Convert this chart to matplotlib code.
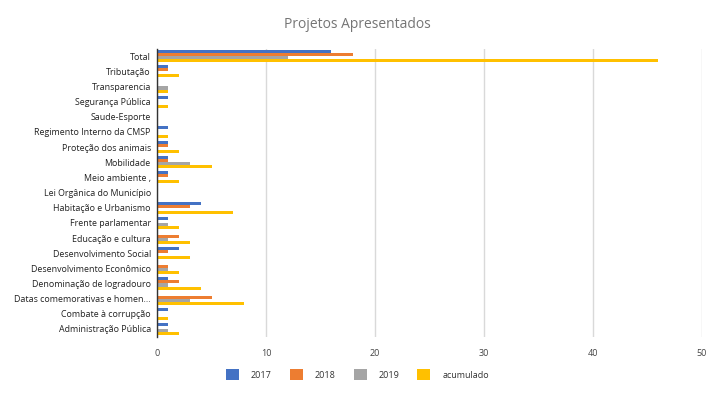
import numpy as np
from matplotlib import pyplot as plt

plt.rcParams['font.family'] = ['Open Sans', 'DejaVu Sans']

categories = [
    "Total", "Tributação", "Transparencia", "Segurança Pública", "Saude-Esporte",
    "Regimento Interno da CMSP", "Proteção dos animais", "Mobilidade",
    "Meio ambiente ,", "Lei Orgânica do Município", "Habitação e Urbanismo",
    "Frente parlamentar", "Educação e cultura", "Desenvolvimento Social",
    "Desenvolvimento Econômico", "Denominação de logradouro",
    "Datas comemorativas e homen...", "Combate à corrupção", "Administração Pública",
]
v2017 = [16, 1, 0, 1, 0, 1, 1, 1, 1, 0, 4, 1, 0, 2, 0, 1, 0, 1, 1]
v2018 = [18, 1, 0, 0, 0, 0, 1, 1, 1, 0, 3, 0, 2, 1, 1, 2, 5, 0, 0]
v2019 = [12, 0, 1, 0, 0, 0, 0, 3, 0, 0, 0, 1, 1, 0, 1, 1, 3, 0, 1]
acumulado = [46, 2, 1, 1, 0, 1, 2, 5, 2, 0, 7, 2, 3, 3, 2, 4, 8, 1, 2]

series = [("2017", v2017, "#4472C4"), ("2018", v2018, "#ED7D31"),
          ("2019", v2019, "#A5A5A5"), ("acumulado", acumulado, "#FFC000")]

fig = plt.figure(figsize=(7.15, 3.95), dpi=100)
ax = fig.add_axes([0.2196, 0.148, 0.7622, 0.729])

y = np.arange(len(categories))
h = 0.2
for k, (name, vals, col) in enumerate(series):
    ax.barh(y + (k - 1.5) * h, vals, height=h, color=col, label=name, zorder=3)

ax.set_ylim(len(categories) - 0.5, -0.5)
ax.set_xlim(0, 50)
ax.set_xticks([0, 10, 20, 30, 40, 50])
ax.set_yticks(y)
ax.set_yticklabels(categories)
ax.tick_params(axis='y', length=0, pad=4.5, labelsize=6.4, labelcolor='#222222')
ax.tick_params(axis='x', length=0, pad=9, labelsize=6.5, labelcolor='#444444')
ax.grid(axis='x', color='#d9d9d9', linewidth=1, zorder=0)
for s in ['top', 'right', 'bottom']:
    ax.spines[s].set_visible(False)
ax.spines['left'].set_color('#333333')
ax.spines['left'].set_linewidth(1)
ax.spines['left'].set_zorder(4)

fig.text(0.5, 0.939, "Projetos Apresentados", ha='center', va='center',
         fontsize=10, color='#757575')
fig.legend(loc='center', bbox_to_anchor=(0.5, 0.051), ncol=4, frameon=False,
           fontsize=6.5, handlelength=1.45, handleheight=1.45, columnspacing=2.0,
           handletextpad=1.3, labelcolor='#333333')

plt.savefig("out.png", dpi=100)
